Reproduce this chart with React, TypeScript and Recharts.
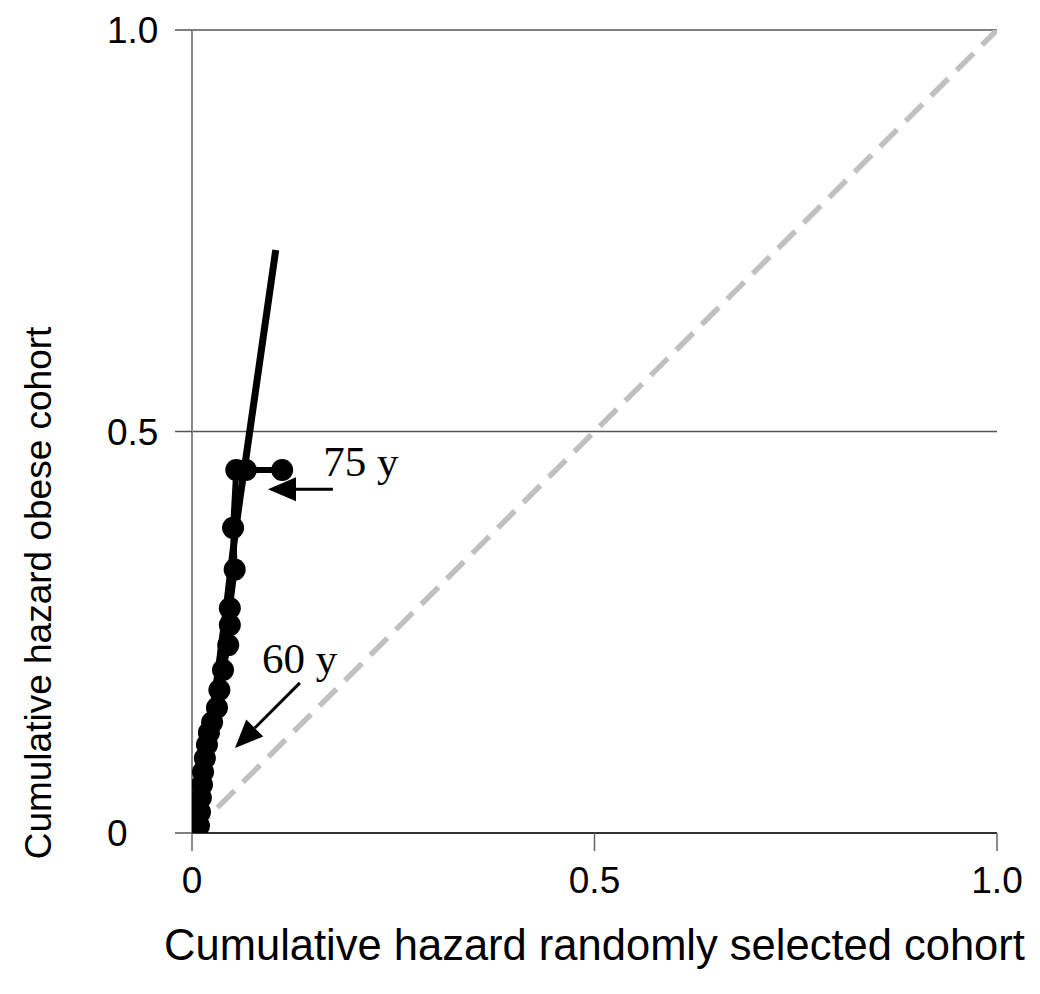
import { LineChart, Line, XAxis, YAxis, CartesianGrid, ReferenceLine, ReferenceDot, Label } from "recharts";

// axis ticks
const axisTicks = [0, 0.5, 1];
const xTickLabels = ["0", "0.5", "1.0"];
const yTickLabels = ["0", "0.5", "1.0"];

// line of identity (randomly selected cohort vs itself)
const identityX = [0, 1];
const identityY = [0, 1];

// obese cohort, with markers (ends at 75 y)
const markedX = [0.0075, 0.0087, 0.0099, 0.011, 0.0124, 0.0137, 0.016, 0.0186, 0.021, 0.025, 0.031, 0.034, 0.0385, 0.045, 0.047, 0.047, 0.053, 0.051, 0.055, 0.067, 0.112];
const markedY = [-0.009, 0.009, 0.026, 0.044, 0.06, 0.076, 0.093, 0.11, 0.125, 0.138, 0.156, 0.178, 0.203, 0.234, 0.259, 0.28, 0.328, 0.38, 0.452, 0.452, 0.452];

// obese cohort, plain line
const plainX = [0, 0.01, 0.02, 0.035, 0.045, 0.052, 0.06, 0.066, 0.104];
const plainY = [0, 0.04, 0.11, 0.22, 0.3, 0.36, 0.42, 0.46, 0.726];

// annotations
const arrow75 = { x1: 0.175, y1: 0.428, x2: 0.0944, y2: 0.428 };
const arrow60 = { x1: 0.134, y1: 0.187, x2: 0.0534, y2: 0.106 };
const label75 = { x: 0.163, y: 0.445, text: "75 y" };
const label60 = { x: 0.087, y: 0.199, text: "60 y" };

const toPoints = (xs: number[], ys: number[]) => xs.map((x, i) => ({ x, y: ys[i] }));

const identityData = toPoints(identityX, identityY);
const markedData = toPoints(markedX, markedY);
const plainData = toPoints(plainX, plainY);

const sans = "'Liberation Sans', Arial, sans-serif";
const serif = "'Liberation Serif', 'Times New Roman', serif";

function ArrowShape(props: any) {
  const { x1, y1, x2, y2 } = props;
  const dx = x2 - x1;
  const dy = y2 - y1;
  const len = Math.sqrt(dx * dx + dy * dy) || 1;
  const ux = dx / len;
  const uy = dy / len;
  const headLen = 28;
  const headHalf = 12;
  const bx = x2 - ux * headLen;
  const by = y2 - uy * headLen;
  const pts = [
    `${x2},${y2}`,
    `${bx - uy * headHalf},${by + ux * headHalf}`,
    `${bx + uy * headHalf},${by - ux * headHalf}`,
  ].join(" ");
  return (
    <g>
      <line x1={x1} y1={y1} x2={bx} y2={by} stroke="#000" strokeWidth={3} />
      <polygon points={pts} fill="#000" />
    </g>
  );
}

const textShape = (text: string) => (props: any) => (
  <text x={props.cx} y={props.cy} fontFamily={serif} fontSize={43} fill="#000">
    {text}
  </text>
);

export default function App() {
  return (
    <div style={{ position: "absolute", left: 0, top: 0, background: "#fff" }}>
      <LineChart width={1040} height={994} margin={{ top: 30, right: 43, left: 0, bottom: 0 }}>
        <CartesianGrid horizontal vertical={false} stroke="#555" strokeWidth={1.5} />
        <XAxis
          type="number"
          dataKey="x"
          domain={[0, 1]}
          allowDataOverflow
          ticks={axisTicks}
          tickFormatter={(v: number) => xTickLabels[axisTicks.indexOf(v)]}
          tick={{ fill: "#000", fontSize: 37, fontFamily: sans }}
          tickSize={18}
          tickMargin={16}
          height={161}
          stroke="#333"
          strokeWidth={2}
          tickLine={{ stroke: "#666", strokeWidth: 1.5 }}
        >
          <Label
            value="Cumulative hazard randomly selected cohort"
            position="insideBottom"
            offset={34}
            style={{ fill: "#000", fontSize: 43.5, fontFamily: sans }}
          />
        </XAxis>
        <YAxis
          type="number"
          domain={[0, 1]}
          allowDataOverflow
          ticks={axisTicks}
          width={192}
          tickSize={17}
          stroke="#888"
          strokeWidth={2}
          tickLine={{ stroke: "#555", strokeWidth: 1.5 }}
          tick={(p: any) => (
            <text x={107} y={p.y} dy="0.36em" fontSize={37} fontFamily={sans} fill="#000">
              {yTickLabels[axisTicks.indexOf(p.payload.value)]}
            </text>
          )}
        >
          <Label
            content={() => (
              <text
                transform="translate(51,593) rotate(-90)"
                textAnchor="middle"
                fontSize={37}
                fontFamily={sans}
                fill="#000"
              >
                Cumulative hazard obese cohort
              </text>
            )}
          />
        </YAxis>
        <Line
          data={identityData}
          dataKey="y"
          stroke="#c0c0c0"
          strokeWidth={5.5}
          strokeDasharray="24 12"
          dot={false}
          isAnimationActive={false}
        />
        <Line
          data={plainData}
          dataKey="y"
          stroke="#000"
          strokeWidth={7}
          dot={false}
          isAnimationActive={false}
        />
        <Line
          data={markedData}
          dataKey="y"
          stroke="#000"
          strokeWidth={6}
          dot={{ r: 11, fill: "#000", stroke: "#000", strokeWidth: 0 }}
          isAnimationActive={false}
        />
        <ReferenceLine
          segment={[{ x: arrow75.x1, y: arrow75.y1 }, { x: arrow75.x2, y: arrow75.y2 }]}
          shape={ArrowShape}
        />
        <ReferenceLine
          segment={[{ x: arrow60.x1, y: arrow60.y1 }, { x: arrow60.x2, y: arrow60.y2 }]}
          shape={ArrowShape}
        />
        <ReferenceDot x={label75.x} y={label75.y} r={0} shape={textShape(label75.text)} />
        <ReferenceDot x={label60.x} y={label60.y} r={0} shape={textShape(label60.text)} />
      </LineChart>
    </div>
  );
}
